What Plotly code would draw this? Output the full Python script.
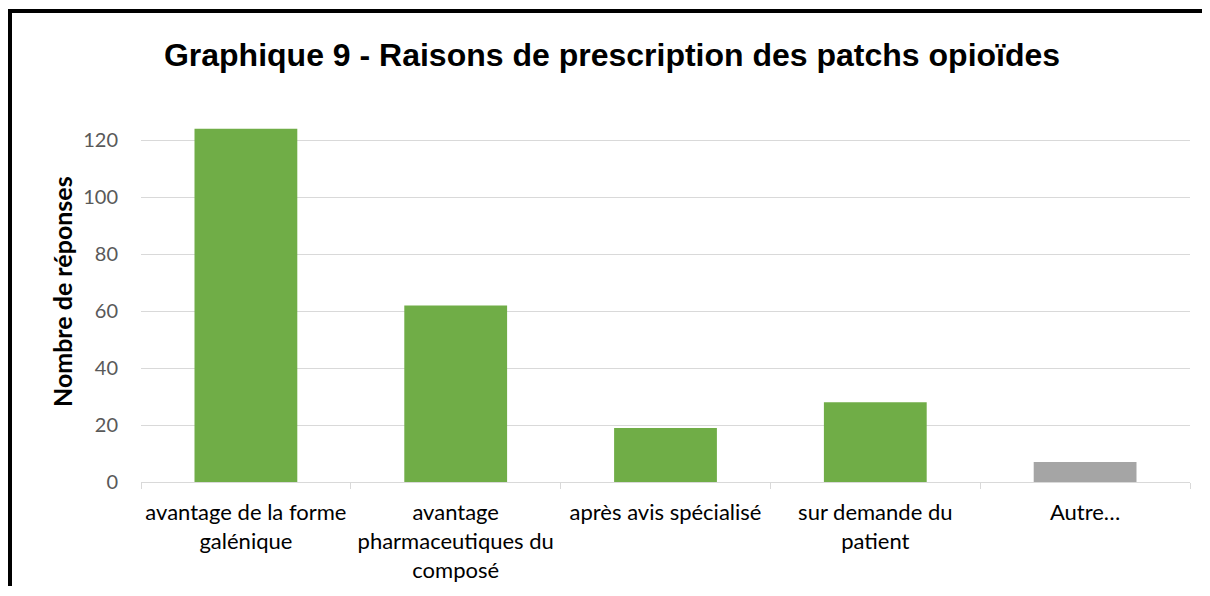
import plotly.graph_objects as go

categories = [
    "avantage de la forme<br>galénique",
    "avantage<br>pharmaceutiques du<br>composé",
    "après avis spécialisé",
    "sur demande du<br>patient",
    "Autre…",
]
responses = [124, 62, 19, 28, 7]
bar_colours = ["#70AD47", "#70AD47", "#70AD47", "#70AD47", "#A5A5A5"]
y_ticks = [0, 20, 40, 60, 80, 100, 120]

# page body has an 8px margin, so the figure starts at (8, 8);
# keep the page inside the 1210x596 window to avoid scrollbars
OFF = 8
W, H = 1194, 578
L, R, T, B = 133, 12, 118, 104
pw, ph = W - L - R, H - T - B


def px_x(x):
    return (x - OFF - L) / pw


def px_y(y):
    return (H - B - (y - OFF)) / ph


fig = go.Figure(go.Bar(
    x=categories,
    y=responses,
    marker=dict(color=bar_colours, line=dict(width=0)),
    width=0.49,
))

border = dict(color="black", width=4)
fig.update_layout(
    width=W, height=H,
    margin=dict(l=L, r=R, t=T, b=B, autoexpand=False),
    paper_bgcolor="white", plot_bgcolor="white",
    showlegend=False,
    font=dict(family="Lato", color="#000000"),
    title=dict(
        text="<b>Graphique 9 - Raisons de prescription des patchs opioïdes</b>",
        font=dict(family="Liberation Sans", size=32, color="#000000"),
        x=(612 - OFF) / W, xanchor="center", xref="container",
        y=1 - (55 - OFF) / H, yanchor="middle", yref="container",
    ),
    shapes=[
        dict(type="line", xref="paper", yref="paper",
             x0=px_x(10), x1=px_x(10), y0=px_y(OFF + H), y1=px_y(9),
             line=border, layer="above"),
        dict(type="line", xref="paper", yref="paper",
             x0=px_x(8), x1=px_x(OFF + W), y0=px_y(11), y1=px_y(11),
             line=border, layer="above"),
    ],
    annotations=[dict(
        text="<b>Nombre de réponses</b>", textangle=-90,
        xref="paper", yref="paper", x=px_x(62), y=px_y(292),
        xanchor="center", yanchor="middle", showarrow=False,
        font=dict(family="Lato", size=25, color="#000000"),
    )],
)

fig.update_xaxes(
    showline=True, linecolor="#D9D9D9", linewidth=1,
    ticks="outside", tickson="boundaries", ticklen=6, tickcolor="#D9D9D9",
    tickfont=dict(family="Lato", size=22, color="#000000"),
    tickangle=0, automargin=False,
    showgrid=False, ticklabelstandoff=11,
)
fig.update_yaxes(
    range=[0, 125], tickvals=y_ticks, automargin=False,
    showgrid=True, gridcolor="#D9D9D9", gridwidth=1,
    zeroline=False, showline=False, ticks="",
    tickfont=dict(family="Lato", size=20, color="#595959"),
    ticklabelstandoff=22,
)

fig.write_html("out.html")
